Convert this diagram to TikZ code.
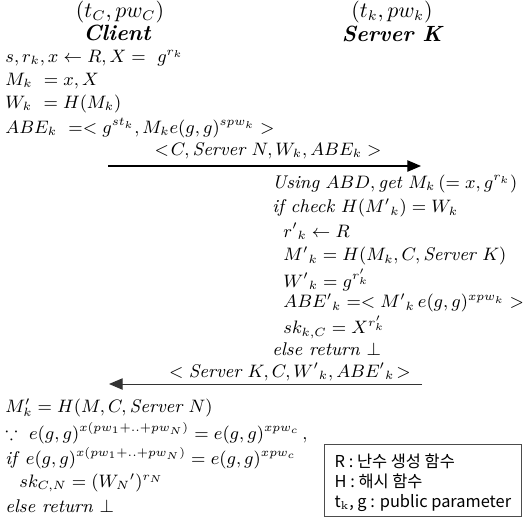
\documentclass[tikz,border=0pt]{standalone}
\usepackage{fontspec}
\usepackage{amssymb}
\newfontfamily\krfont{Noto Sans CJK KR}
\usetikzlibrary{arrows.meta, positioning}

\begin{document}
\begin{tikzpicture}[
  x=0.5pt, y=-0.5pt,
  font=\fontsize{9.2}{11}\selectfont,
  line/.style ={anchor=west, inner sep=0pt},
  party/.style={inner sep=0pt, align=center, font=\fontsize{10.5}{12}\selectfont},
  role/.style ={inner sep=0pt, font=\fontsize{11}{13}\selectfont\bfseries\itshape},
  msg/.style  ={-{Triangle[length=2.4mm, width=2mm]}, line width=0.6pt},
  reply/.style={-{Triangle[length=2.4mm, width=2mm]}, line width=0.5pt, draw=black!80},
  legend/.style={draw=black!70, line width=0.4pt, anchor=north west, inner sep=4pt,
                 align=left, font=\krfont\fontsize{8.2}{10}\selectfont,
                 minimum width=98.5pt, minimum height=36pt, text depth=0pt},
]
\useasboundingbox (0,0) rectangle (524,516);

% ---- parties ----
\node[party] (cid)  at (120,12) {$(t_C, pw_C)$};
\node[role]  (cli)  at (117,33) {Client};
\node[party] (sid)  at (392,12) {$(t_k, pw_k)$};
\node[role]  (srv)  at (392,34) {Server K};

% ---- client setup ----
\node[line] (c1) at (5,58)  {$s, r_k, x \leftarrow R, X = \ g^{r_k}$};
\node[line] (c2) at (5,81)  {$M_k\ = x, X$};
\node[line] (c3) at (5,104) {$W_k\ = H(M_k)$};
\node[line] (c4) at (5,128) {$ABE_k\ = <g^{st_k}, M_k e(g,g)^{spw_k}>$};

% ---- first message ----
\coordinate (m1s) at (108,166);
\coordinate (m1e) at (421,166);
\node[line, anchor=center] (m1) at (268,151) {$<\!C, \mathit{Server}\ N, W_k, ABE_k>$};

% ---- server side ----
\node[line] (s1) at (272,184) {$\mathit{Using}\ ABD, \mathit{get}\ M_k\,(= x, g^{r_k})$};
\node[line] (s2) at (272,208) {\textit{if check} $H(M'{}_k) = W_k$};
\node[line] (s3) at (283,231) {$r'{}_k \leftarrow R$};
\node[line] (s4) at (283,256) {$M'{}_k = H(M_k, C, \mathit{Server}\ K)$};
\node[line] (s5) at (283,280) {$W'{}_k = g^{r'_k}$};
\node[line] (s6) at (283,303) {$ABE'{}_k = <M'{}_k\, e(g,g)^{xpw_k}>$};
\node[line] (s7) at (283,327) {$sk_{k,C} = X^{r'_k}$};
\node[line] (s8) at (272,349) {\textit{else return} $\bot$};

% ---- reply ----
\coordinate (m2s) at (422,384);
\coordinate (m2e) at (109,384);
\node[line, anchor=center] (m2) at (290,372) {$<\mathit{Server}\ K, C, W'{}_k, ABE'{}_k\!>$};

% ---- client check ----
\node[line] (k1) at (5,408) {$M'_k = H(M, C, \mathit{Server}\ N)$};
\node[line] (k2) at (5,433) {$\because\ e(g,g)^{x(pw_1+..+pw_N)} = e(g,g)^{xpw_c}\,,$};
\node[line] (k3) at (5,458) {\textit{if} $e(g,g)^{x(pw_1+..+pw_N)} = e(g,g)^{xpw_c}$};
\node[line] (k4) at (19,483) {$sk_{C,N} = (W_N{}')^{r_N}$};
\node[line] (k5) at (5,506) {\textit{else return} $\bot$};

% ---- legend ----
\node[legend] (leg) at (324,444) {R : 난수 생성 함수\\H : 해시 함수\\t$_{\mathrm{k}}$, g : public parameter};

% ---- arrows ----
\draw[msg]   (m1s) -- (m1e);
\draw[reply] (m2s) -- (m2e);

\end{tikzpicture}
\end{document}
